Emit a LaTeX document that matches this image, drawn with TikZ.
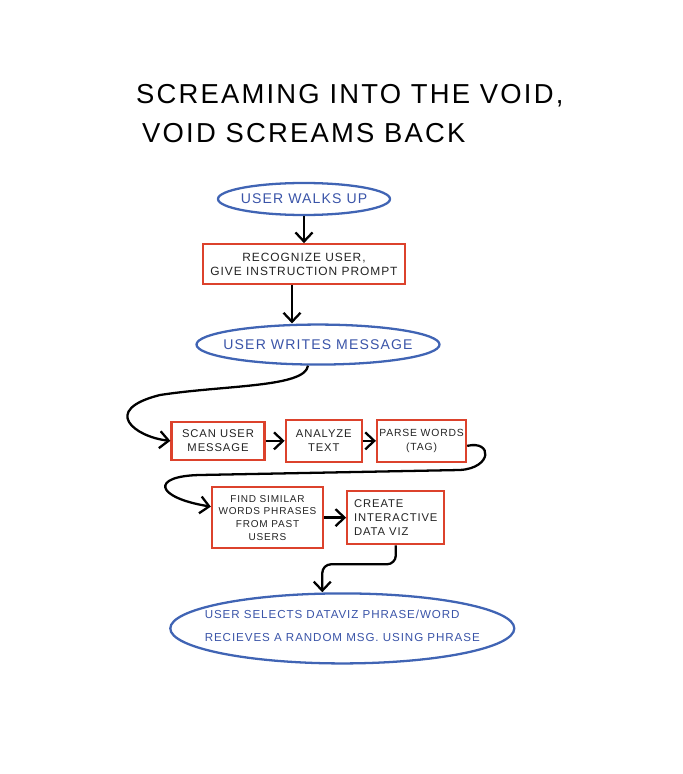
\documentclass[tikz,border=0pt]{standalone}
\usepackage{fontspec}
\setmainfont{Liberation Sans}
\newfontfamily\hand[LetterSpace=8]{Liberation Sans}
\usetikzlibrary{positioning}
\usetikzlibrary{shapes.geometric,arrows.meta}
\definecolor{penblue}{RGB}{64,100,180}
\definecolor{penred}{RGB}{220,66,44}
\definecolor{inkblue}{RGB}{58,84,168}
\definecolor{ink}{RGB}{35,35,35}

\tikzset{
  bubble/.style={shape=ellipse, draw=penblue, line width=1.3pt, inner xsep=-1cm, inner ysep=-0.2cm,
    text=inkblue, font=\hand\fontsize{8}{9.6}\selectfont},
  stepbox/.style={draw=penred, line width=1.3pt, inner sep=1pt, text=ink, align=center,
    font=\hand\fontsize{6.4}{7.8}\selectfont},
  flow/.style={line width=1.3pt, -{Straight Barb[length=1.8mm,width=3.4mm]}},
}

\begin{document}
\begin{tikzpicture}
      \useasboundingbox (0,0) rectangle (13.64,-15.48);
      % title
      \node(title) [anchor=base west, font=\hand\fontsize{15.6}{19}\selectfont] at (2.6,-2.08) {SCREAMING INTO THE VOID,};
      \node(back) [anchor=base west, font=\hand\fontsize{15.6}{19}\selectfont] at (2.72,-2.86) {VOID SCREAMS BACK};

      \node(walks) [bubble, minimum width=3.44cm, minimum height=0.64cm] at (6.08,-3.98) {USER WALKS UP};
      \node(recog) [stepbox, minimum width=4.04cm, minimum height=0.8cm, below=0.54cm of walks,
        font=\hand\fontsize{6.8}{8.4}\selectfont] {RECOGNIZE USER,\\GIVE INSTRUCTION PROMPT};
      \node(writes) [bubble, minimum width=4.86cm, minimum height=0.8cm, below=0.76cm of recog, xshift=0.28cm] {USER WRITES MESSAGE};
      \node(scan) [stepbox, minimum width=1.86cm, minimum height=0.76cm, below=1.10cm of writes, xshift=-2.0cm] {SCAN USER\\MESSAGE};
      \node(analyze) [stepbox, minimum width=1.52cm, minimum height=0.84cm, right=0.38cm of scan] {ANALYZE\\TEXT};
      \node(parse) [stepbox, minimum width=1.78cm, minimum height=0.84cm, right=0.26cm of analyze,
        font=\hand\fontsize{5.9}{7.6}\selectfont] {PARSE WORDS\\(TAG)};
      \node(find) [stepbox, minimum width=2.22cm, minimum height=1.22cm, below=0.50cm of scan, xshift=0.99cm,
        font=\hand\fontsize{5.7}{7.2}\selectfont] {FIND SIMILAR\\WORDS PHRASES\\FROM PAST\\USERS};
      \node(create) [stepbox, minimum width=1.94cm, minimum height=1.06cm, right=0.44cm of find, align=left] {CREATE\\INTERACTIVE\\DATA VIZ};
      \node(selects) [bubble, minimum width=6.88cm, minimum height=1.4cm, below=0.94cm of create, xshift=-1.07cm, align=left,
        text depth=0.12cm, font=\hand\fontsize{6.6}{8}\selectfont] {USER SELECTS DATAVIZ PHRASE/WORD\\[5pt]RECIEVES A RANDOM MSG. USING PHRASE};

      \draw[flow] (walks) -- (recog);
      \draw[flow] ([xshift=-0.24cm]recog.south) -- ([xshift=-0.24cm]recog.south |- writes.north);
      \draw[flow] ([xshift=-0.2cm]writes.south) .. controls (6.1,-7.75) and (4.5,-7.7) .. (3.2,-7.9)
        .. controls (2.0,-8.2) and (2.7,-8.74) .. (scan.west);
      \draw[flow] (scan.east) -- (analyze.west);
      \draw[flow] (analyze.east) -- (parse.west);
      \draw[flow] ([yshift=-0.1cm]parse.east) .. controls (9.85,-8.80) and (9.85,-9.36) .. (9.2,-9.40)
        -- (4.0,-9.50) .. controls (3.0,-9.52) and (3.1,-9.95) .. ([yshift=0.22cm]find.west);
      \draw[flow] (find.east) -- (create.west);
      \draw[flow, rounded corners=5pt] (create.south) -- ++(0,-0.38) -| ([xshift=-0.4cm]selects.north);
\end{tikzpicture}
\end{document}
